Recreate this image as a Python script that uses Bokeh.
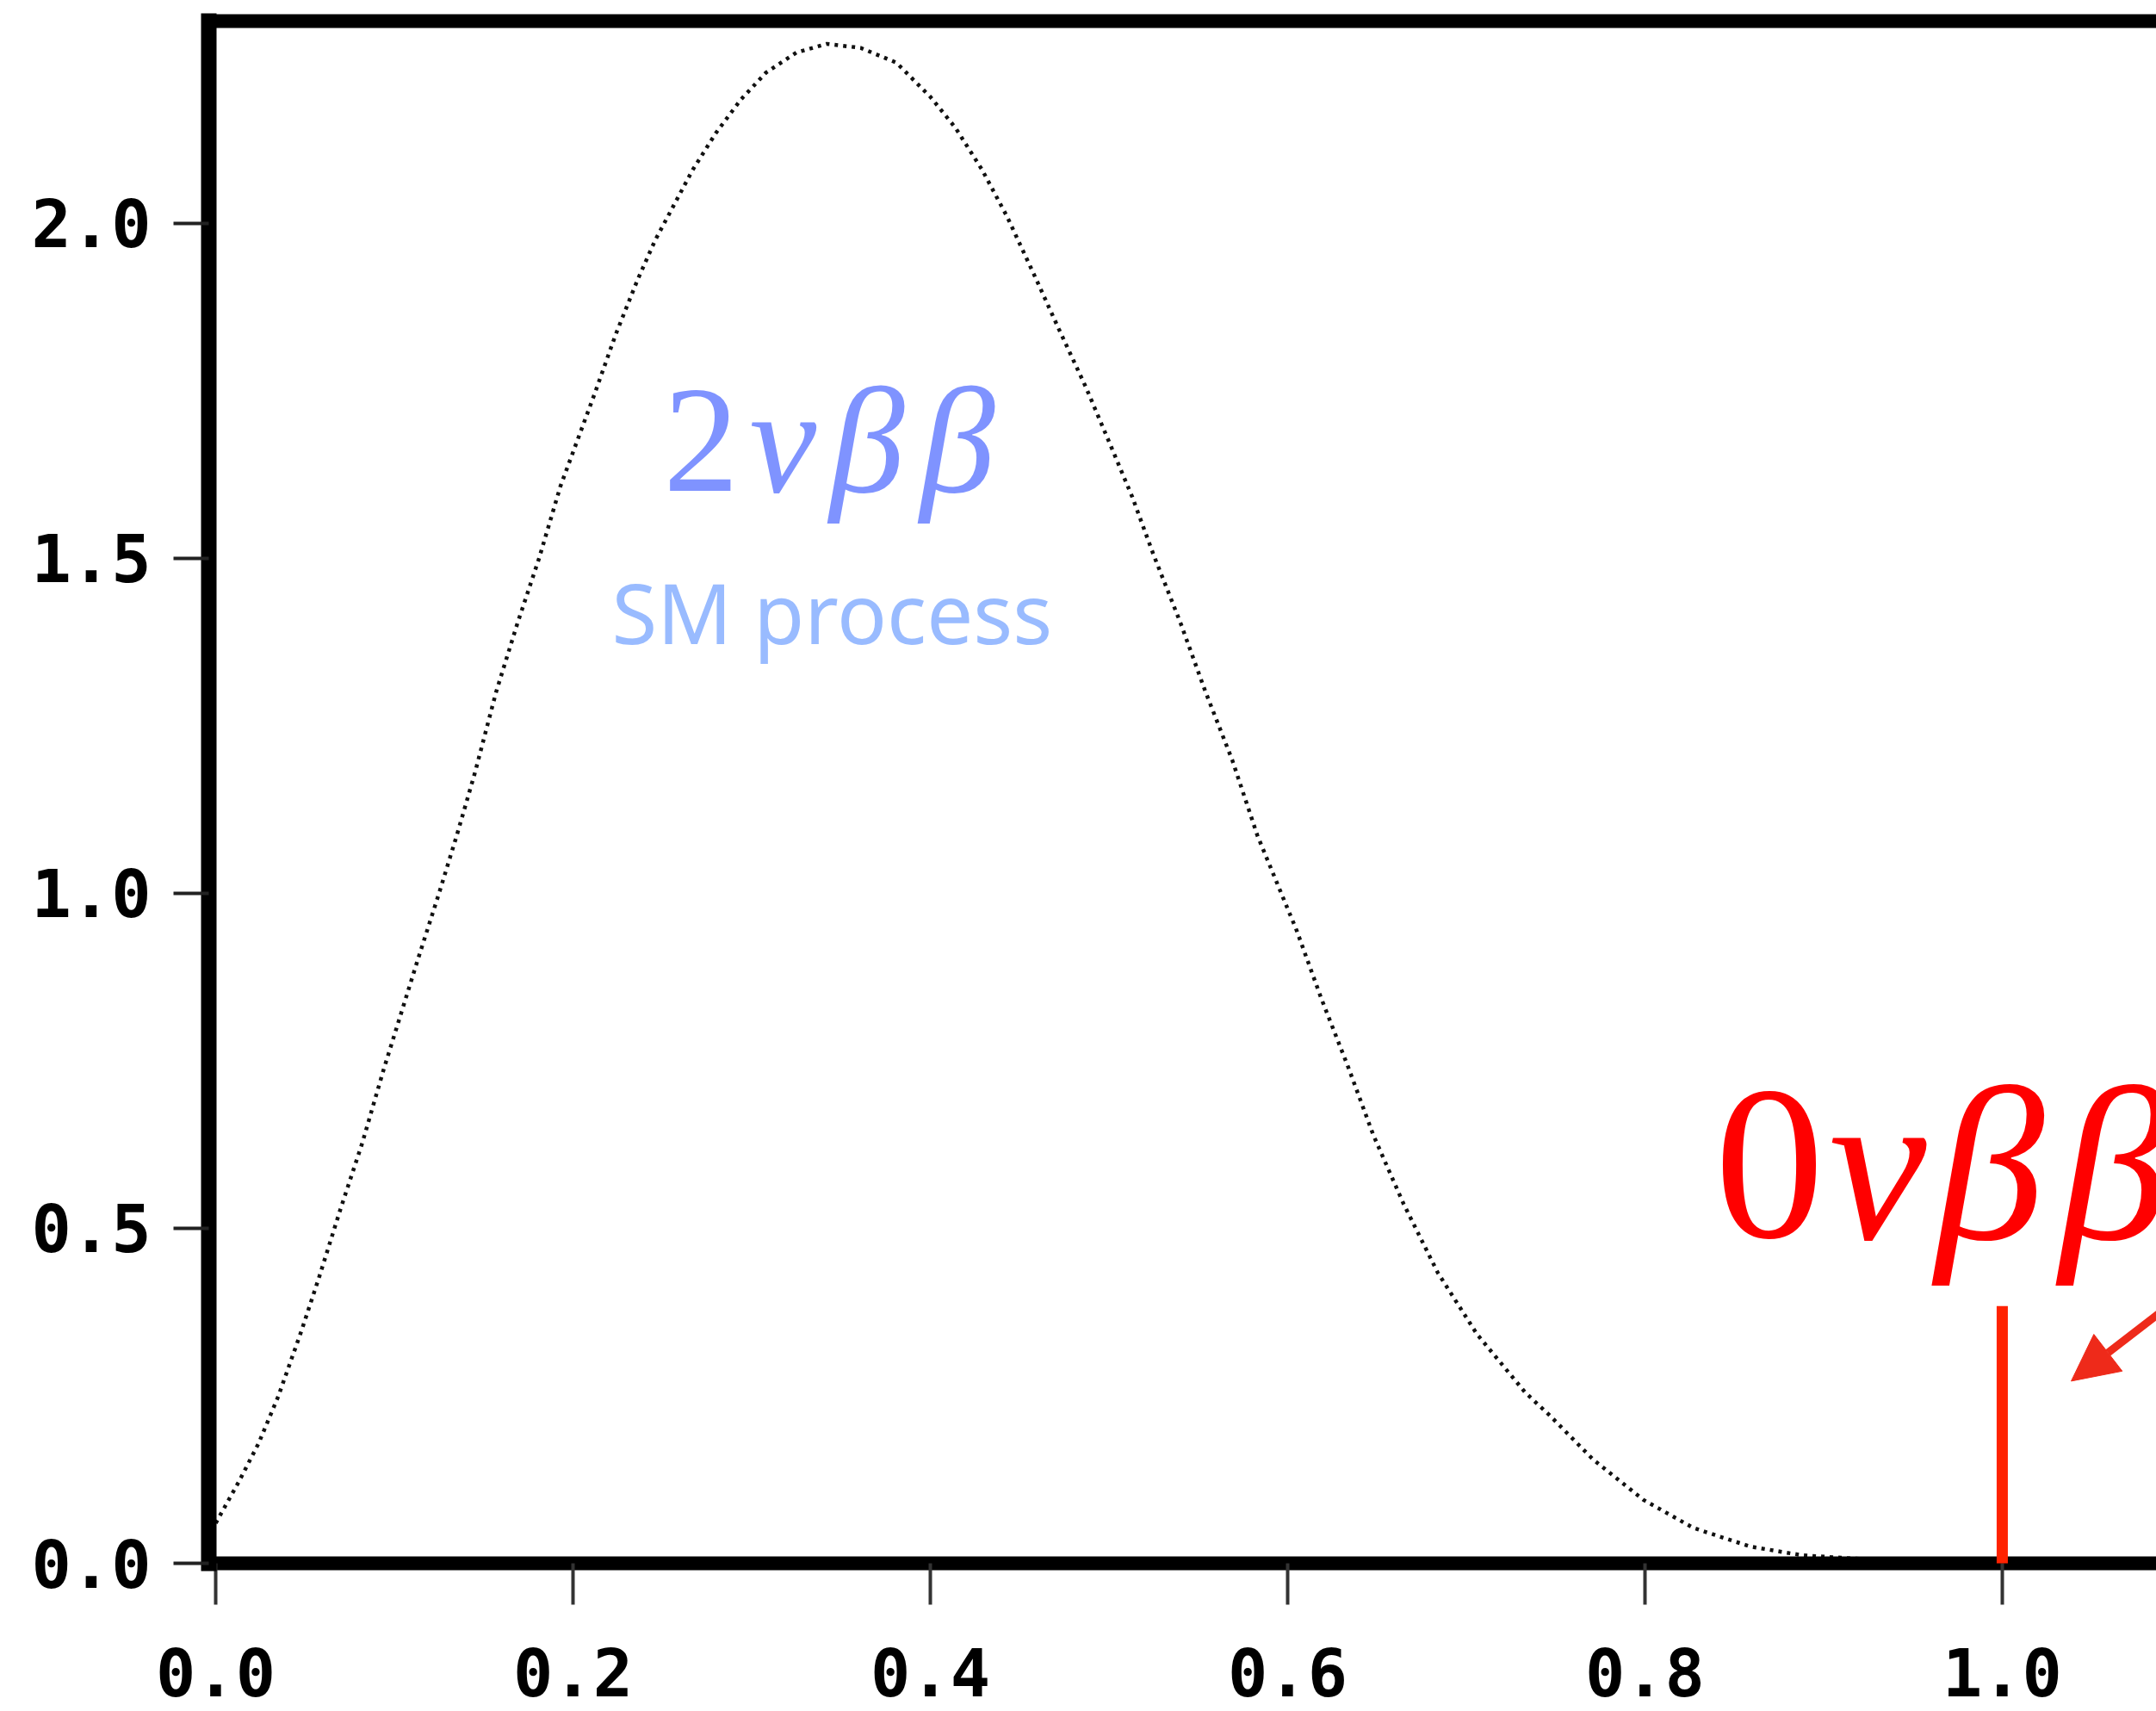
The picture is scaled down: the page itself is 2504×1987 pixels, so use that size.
from bokeh.plotting import figure
from bokeh.models import Range1d, LinearAxis, FixedTicker, Arrow, NormalHead
from bokeh.core.properties import value
from bokeh.embed import file_html
from bokeh.resources import INLINE

# ---- data ----
energy = [0.000, 0.013, 0.024, 0.035, 0.048, 0.058, 0.070, 0.082, 0.094, 0.113,
          0.125, 0.135, 0.145, 0.157, 0.169, 0.181, 0.193, 0.212, 0.224, 0.236,
          0.246, 0.255, 0.267, 0.280, 0.294, 0.308, 0.325, 0.342, 0.361, 0.381,
          0.400, 0.414, 0.429, 0.443, 0.458, 0.472, 0.487, 0.501, 0.513, 0.525,
          0.540, 0.554, 0.569, 0.583, 0.598, 0.605, 0.619, 0.634, 0.648, 0.665,
          0.684, 0.706, 0.733, 0.747, 0.771, 0.799, 0.827, 0.859, 0.888, 0.936]
rate = [0.060, 0.122, 0.179, 0.249, 0.347, 0.428, 0.530, 0.627, 0.737, 0.900,
        1.000, 1.087, 1.179, 1.301, 1.404, 1.500, 1.608, 1.745, 1.835, 1.915,
        1.975, 2.020, 2.080, 2.135, 2.185, 2.225, 2.255, 2.268, 2.262, 2.240,
        2.189, 2.143, 2.080, 2.010, 1.924, 1.842, 1.756, 1.668, 1.592, 1.505,
        1.404, 1.301, 1.199, 1.087, 0.990, 0.945, 0.842, 0.740, 0.639, 0.536,
        0.434, 0.342, 0.255, 0.220, 0.155, 0.095, 0.053, 0.025, 0.012, 0.004]

x_ticks = [0.0, 0.2, 0.4, 0.6, 0.8, 1.0]
x_tick_labels = ["0.0", "0.2", "0.4", "0.6", "0.8", "1.0"]
y_ticks = [0.0, 0.5, 1.0, 1.5, 2.0]
y_tick_labels = ["0.0", "0.5", "1.0", "1.5", "2.0"]

zero_nu_energy = 1.0     # 0vbb line position (Q value)
zero_nu_height = 0.384   # height of the 0vbb line

# ---- figure ----
p = figure(width=2504, height=1987, output_backend="svg", toolbar_location=None,
           x_range=Range1d(-0.00386, 1.0863), y_range=Range1d(0.0, 2.302),
           x_axis_type=None, y_axis_type=None,
           min_border_left=242, min_border_right=0, min_border_top=24,
           min_border_bottom=172)
p.outline_line_color = None
p.background_fill_color = "white"
p.border_fill_color = "white"

tick_font = "DejaVu Sans Mono"

xaxis = LinearAxis(ticker=FixedTicker(ticks=x_ticks),
                   major_label_overrides=dict(zip(x_ticks, x_tick_labels)),
                   axis_line_width=16, axis_line_color="black", axis_line_cap="square",
                   major_tick_out=48, major_tick_in=0, major_tick_line_width=4,
                   major_tick_line_color="#333333", minor_tick_line_color=None,
                   major_label_standoff=50, major_label_text_line_height=0.8,
                   major_label_text_font=tick_font, major_label_text_font_style="bold",
                   major_label_text_font_size="77px", major_label_text_color="black")
p.add_layout(xaxis, "below")

yaxis = LinearAxis(ticker=FixedTicker(ticks=y_ticks),
                   major_label_overrides=dict(zip(y_ticks, y_tick_labels)),
                   axis_line_width=18, axis_line_color="black", axis_line_cap="square",
                   major_tick_out=41, major_tick_in=0, major_tick_line_width=4,
                   major_tick_line_color="#222222", minor_tick_line_color=None,
                   major_label_standoff=26,
                   major_label_text_font=tick_font, major_label_text_font_style="bold",
                   major_label_text_font_size="77px", major_label_text_color="black")
p.add_layout(yaxis, "left")

top = LinearAxis(ticker=FixedTicker(ticks=[]), major_label_text_font_size="0px",
                 major_tick_line_color=None, minor_tick_line_color=None,
                 major_tick_out=0, major_label_standoff=0,
                 axis_line_width=16, axis_line_color="black", axis_line_cap="square")
p.add_layout(top, "above")

# 2vbb spectrum (dotted)
p.line(energy, rate, line_color="#111111", line_width=4.5, line_dash="4 6")

# 0vbb line at the endpoint
p.add_layout(Arrow(end=None, x_start=zero_nu_energy, y_start=-0.018,
                   x_end=zero_nu_energy, y_end=zero_nu_height,
                   line_color="#ff2200", line_width=13, level="overlay"))

# pointer arrow
p.add_layout(Arrow(end=NormalHead(size=54, fill_color="#ee2a1a", line_color="#ee2a1a",
                                  line_width=1),
                   x_start=1.113, y_start=0.425, x_end=1.0386, y_end=0.272,
                   line_color="#ee2a1a", line_width=9, level="overlay"))

# labels (each glyph placed separately to follow the reference spacing)
serif = "Liberation Serif"
blue = "#7f93ff"
blue_y = 1.676
for gx, g, style in [(0.2506, "2", "normal"), (0.2988, "ν", "italic"),
                     (0.3436, "β", "italic"), (0.3942, "β", "italic")]:
    p.text(x=[gx], y=[blue_y], text=[g], text_font=value(serif),
           text_font_style=style, text_font_size=value("175px"), text_color=blue,
           text_baseline="alphabetic", text_align="left")

p.text(x=[0.345], y=[1.420], text=["SM process"], text_font=value("Noto Sans"),
       text_font_size=value("96px"), text_color="#99bbff",
       text_baseline="alphabetic", text_align="center")

red = "#ff0000"
red_y = 0.594
for gx, g, style in [(0.839, "0", "normal"), (0.9031, "ν", "italic"),
                     (0.9624, "β", "italic"), (1.0318, "β", "italic")]:
    p.text(x=[gx], y=[red_y], text=[g], text_font=value(serif),
           text_font_style=style, text_font_size=value("255px"), text_color=red,
           text_baseline="alphabetic", text_align="left")

open("out.html", "w").write(file_html(p, INLINE))
